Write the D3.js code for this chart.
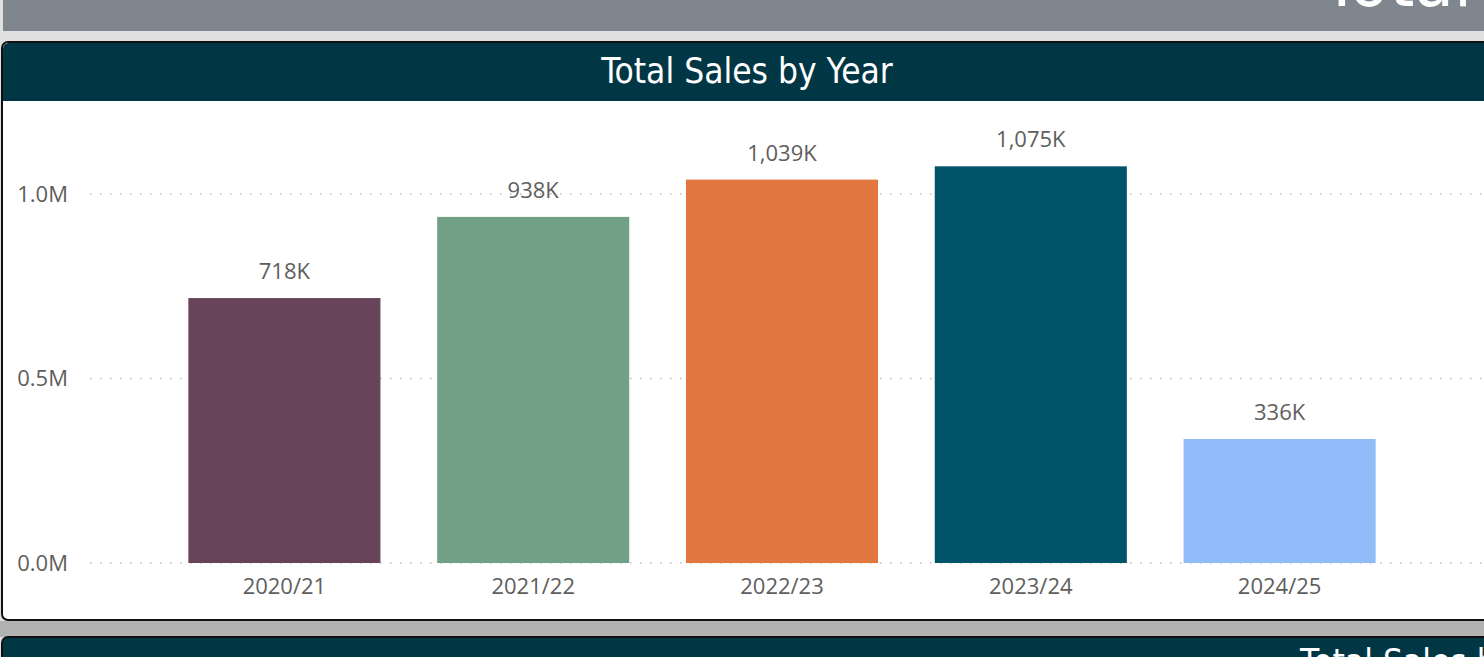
<!DOCTYPE html>
<html>
<head>
<meta charset="utf-8">
<script src="https://cdn.jsdelivr.net/npm/d3@7"></script>
<style>
  html, body { margin: 0; padding: 0; background: #e0e0e0; overflow: hidden; }
  svg { display: block; }
  .tick text { font-family: "Open Sans", "Noto Sans", sans-serif; }
</style>
</head>
<body>
<svg id="chart" width="1484" height="657"></svg>
<script>
const years = ['2020/21', '2021/22', '2022/23', '2023/24', '2024/25'];
const sales = [718000, 938000, 1039000, 1075000, 336000];
const barColors = ['#674459', '#71a087', '#e2763f', '#01536a', '#92bcf9'];
const yTicks = [0, 500000, 1000000];

const width = 1484, height = 657;
const svg = d3.select('#chart');

// page furniture: banner at the top, card, next card peeking in below
svg.append('rect').attr('x', 3).attr('y', 0).attr('width', width).attr('height', 31).attr('fill', '#7f868d');
svg.append('text')
  .attr('x', 1322).attr('y', 6)
  .attr('fill', '#fff')
  .style('font-family', '"DejaVu Sans Condensed", "DejaVu Sans", sans-serif')
  .style('font-size', '72px')
  .text('Total Sales');

svg.append('rect').attr('x', 0).attr('y', 621).attr('width', width).attr('height', 16).attr('fill', '#b2b2b2');

// lower card
svg.append('rect').attr('x', 2).attr('y', 637).attr('width', width + 20).attr('height', 60)
  .attr('rx', 6).attr('fill', '#013744').attr('stroke', '#111').attr('stroke-width', 2);
svg.append('text')
  .attr('x', 1300).attr('y', 674)
  .attr('fill', '#fff')
  .style('font-family', '"DejaVu Sans Condensed", "DejaVu Sans", sans-serif')
  .style('font-size', '35px')
  .text('Total Sales by Month');

// main card
svg.append('rect').attr('x', 2).attr('y', 42).attr('width', width + 20).attr('height', 578)
  .attr('rx', 6).attr('fill', '#fff').attr('stroke', '#111').attr('stroke-width', 2);
svg.append('path')
  .attr('d', `M3,101 V49 Q3,43 9,43 H${width} V101 Z`)
  .attr('fill', '#013744');
svg.append('text')
  .attr('x', 747).attr('y', 83)
  .attr('text-anchor', 'middle')
  .attr('fill', '#fff')
  .style('font-family', '"DejaVu Sans Condensed", "DejaVu Sans", sans-serif')
  .style('font-size', '35px')
  .text('Total Sales by Year');

const x = d3.scaleBand()
  .domain(years)
  .range([160, 1404])
  .paddingInner(0.228)
  .paddingOuter(0.114);

const y = d3.scaleLinear()
  .domain([0, 1000000])
  .range([563, 194]);

// dotted gridlines
svg.append('g')
  .selectAll('line')
  .data(yTicks)
  .join('line')
  .attr('x1', 90).attr('x2', width)
  .attr('y1', d => y(d)).attr('y2', d => y(d))
  .attr('stroke', '#bdbdbd')
  .attr('stroke-width', 1.5)
  .attr('stroke-dasharray', '1.5,8.5');

const yAxis = svg.append('g')
  .attr('transform', 'translate(68,0)')
  .call(d3.axisLeft(y).tickValues(yTicks).tickSize(0).tickPadding(0)
    .tickFormat(d => (d / 1e6).toFixed(1) + 'M'));
yAxis.select('.domain').remove();
yAxis.selectAll('text').attr('fill', '#605e5c').style('font-size', '22px');

const xAxis = svg.append('g')
  .attr('transform', 'translate(0,563)')
  .call(d3.axisBottom(x).tickSize(0).tickPadding(15));
xAxis.select('.domain').remove();
xAxis.selectAll('text').attr('fill', '#605e5c').style('font-size', '22px');

svg.append('g')
  .selectAll('rect')
  .data(sales)
  .join('rect')
  .attr('x', (d, i) => x(years[i]))
  .attr('width', x.bandwidth())
  .attr('y', d => y(d))
  .attr('height', d => y(0) - y(d))
  .attr('fill', (d, i) => barColors[i]);

const fmt = d3.format(',d');
svg.append('g')
  .selectAll('text')
  .data(sales)
  .join('text')
  .attr('x', (d, i) => x(years[i]) + x.bandwidth() / 2)
  .attr('y', d => y(d) - 19)
  .attr('text-anchor', 'middle')
  .attr('fill', '#605e5c')
  .style('font-family', '"Open Sans", "Noto Sans", sans-serif')
  .style('font-size', '22px')
  .text(d => fmt(Math.round(d / 1000)) + 'K');
</script>
</body>
</html>
